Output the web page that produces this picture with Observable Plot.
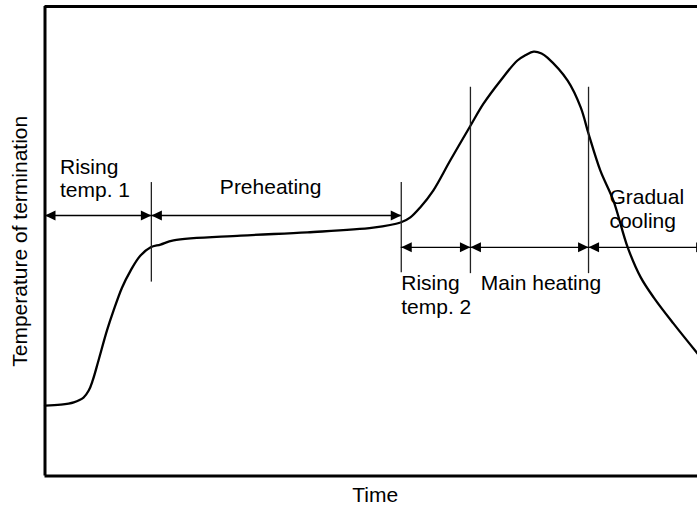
<!DOCTYPE html>
<html>
<head>
<meta charset="utf-8">
<script src="https://cdn.jsdelivr.net/npm/d3@7"></script>
<script src="https://cdn.jsdelivr.net/npm/@observablehq/plot@0.6"></script>
<style>
  html, body { margin: 0; padding: 0; background: white; }
  #chart svg { display: block; }
</style>
</head>
<body>
<div id="chart"></div>
<script>
// ---- Data (time and temperature in arbitrary units, 0–100) ----
const time = [0, 2.4, 4.4, 5.9, 6.7, 7.3, 8.2, 9.5, 10.5, 11.8, 13.1, 14.6, 16.2, 17.7, 19.7, 30.0, 40.2, 50.3, 54.5, 56.0, 57.5, 59.5, 62.1, 65.2, 67.2, 69.8, 72.4, 73.6, 74.9, 76.1, 77.0, 80.1, 82.1, 83.3, 85.1, 87.1, 89.3, 91.3, 93.3, 96.3, 100];
const temperature = [15.0, 15.2, 15.7, 16.7, 18.2, 20.3, 24.6, 31.0, 35.2, 40.1, 43.7, 46.9, 48.7, 49.3, 50.2, 51.2, 51.9, 52.9, 54.0, 55.1, 57.2, 60.8, 67.2, 74.6, 79.3, 84.2, 88.5, 89.6, 90.4, 90.0, 89.1, 84.2, 78.5, 72.9, 65.1, 58.7, 48.7, 42.3, 38.0, 32.5, 26.1];

// phase boundary marker lines
const boundaryTime = [16.3, 54.6, 65.2, 83.3];
const boundaryTop = [62.5, 62.5, 82.8, 82.8];
const boundaryBottom = [41.3, 43.3, 43.1, 43.1];

// phase span arrows
const phaseNames = ["Rising temp. 1", "Preheating", "Rising temp. 2", "Main heating", "Gradual cooling"];
const phaseStart = [0, 16.3, 54.6, 65.2, 83.3];
const phaseEnd = [16.3, 54.6, 65.2, 83.3, 101.4];
const phaseArrowLevel = [55.5, 55.5, 48.7, 48.7, 48.7];

// phase labels (anchor = left edge / top of text, in data units)
const labelText = ["Rising\ntemp. 1", "Preheating", "Rising\ntemp. 2", "Main heating", "Gradual\ncooling"];
const labelTime = [2.3, 26.8, 54.6, 66.8, 86.5];
const labelTemp = [67.9, 63.6, 43.1, 43.1, 61.4];

const xLabel = "Time";
const yLabel = "Temperature of termination";

// ---- Build tables ----
const curve = time.map((t, i) => ({t, temp: temperature[i]}));
const bounds = boundaryTime.map((t, i) => ({t, top: boundaryTop[i], bottom: boundaryBottom[i]}));
const spans = phaseNames.map((name, i) => ({name, start: phaseStart[i], end: phaseEnd[i], level: phaseArrowLevel[i]}));
const labels = labelText.map((text, i) => ({text, t: labelTime[i], temp: labelTemp[i]}));

// arrowhead symbols (tip at the anchor point)
const headLeft = {draw(ctx) { ctx.moveTo(0, 0); ctx.lineTo(10.5, -5); ctx.lineTo(10.5, 5); ctx.closePath(); }};
const headRight = {draw(ctx) { ctx.moveTo(0, 0); ctx.lineTo(-10.5, -5); ctx.lineTo(-10.5, 5); ctx.closePath(); }};

const font = "'Liberation Sans', Arial, Helvetica, sans-serif";

const chart = Plot.plot({
  width: 697,
  height: 505,
  marginLeft: 44.5,
  marginRight: 0,
  marginTop: 6,
  marginBottom: 29.5,
  x: {domain: [0, 100], axis: null},
  y: {domain: [0, 100], axis: null},
  style: {fontFamily: font, background: "white", color: "black"},
  marks: [
    // frame (left, bottom, top)
    Plot.ruleX([0], {stroke: "black", strokeWidth: 3}),
    Plot.ruleY([0, 100], {stroke: "black", strokeWidth: 2.8}),
    // temperature profile
    Plot.line(curve, {x: "t", y: "temp", curve: "catmull-rom", stroke: "black", strokeWidth: 2.3}),
    // phase boundaries
    Plot.ruleX(bounds, {x: "t", y1: "bottom", y2: "top", stroke: "#222", strokeWidth: 1.3}),
    // arrow shafts
    Plot.ruleY(spans, {y: "level", x1: "start", x2: "end", stroke: "black", strokeWidth: 1.4, clip: true}),
    // arrow heads
    Plot.dot(spans, {x: "start", y: "level", symbol: headLeft, fill: "black", stroke: "none", clip: true}),
    Plot.dot(spans, {x: "end", y: "level", symbol: headRight, fill: "black", stroke: "none", clip: true}),
    // phase labels
    Plot.text(labels, {x: "t", y: "temp", text: "text", textAnchor: "start", lineAnchor: "top", lineHeight: 1.12, fontSize: 21, fill: "black"}),
    // axis titles
    Plot.text([xLabel], {x: 50.6, frameAnchor: "bottom", dy: 11.5, textAnchor: "middle", lineAnchor: "top", fontSize: 21, fill: "black"}),
    Plot.text([yLabel], {frameAnchor: "left", dx: -32.5, rotate: -90, textAnchor: "middle", lineAnchor: "top", fontSize: 21, fill: "black"})
  ]
});
document.getElementById("chart").appendChild(chart);
</script>
</body>
</html>
